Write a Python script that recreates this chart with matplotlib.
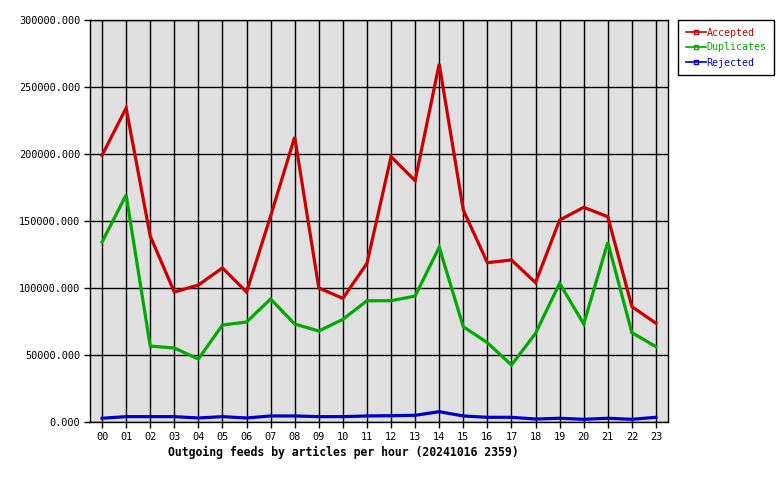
import matplotlib
matplotlib.use("Agg")
import matplotlib.pyplot as plt
from matplotlib.lines import Line2D

hours = ["00","01","02","03","04","05","06","07","08","09","10","11",
         "12","13","14","15","16","17","18","19","20","21","22","23"]
accepted = [199000, 234300, 138800, 97000, 102200, 115000, 97000, 153700,
            212700, 100000, 92300, 118400, 198000, 180100, 267200, 158200,
            118900, 120900, 104000, 150700, 160200, 153200, 86100, 73700]
duplicates = [134300, 169400, 56700, 55200, 47000, 72400, 74600, 91800,
              73100, 67900, 76600, 90500, 90500, 94000, 130400, 71100,
              59200, 42500, 66200, 103500, 73100, 134100, 66700, 56200]
rejected = [2800, 4000, 4000, 4000, 3000, 4000, 3000, 4500,
            4500, 4000, 4000, 4500, 4700, 5000, 7700, 4500,
            3500, 3500, 2200, 2800, 2000, 2800, 2000, 3500]
yticks = [0, 50000, 100000, 150000, 200000, 250000, 300000]
title = "Outgoing feeds by articles per hour (20241016 2359)"

series = [("Accepted", accepted, "#cc0000"),
          ("Duplicates", duplicates, "#00aa00"),
          ("Rejected", rejected, "#0000cc")]

fig = plt.figure(figsize=(7.8, 4.8), dpi=100)
ax = fig.add_axes([90/780, 1-422/480, (668-90)/780, (422-20)/480])
ax.set_facecolor("#e0e0e0")
x = list(range(len(hours)))
for name, vals, col in series:
    ax.plot(x, vals, color=col, lw=2.3, solid_joinstyle="miter", zorder=3)

ax.set_xlim(-0.5, 23.5)
ax.set_ylim(0, 300000)
ax.set_xticks(x)
ax.set_xticklabels(hours)
ax.set_yticks(yticks)
ax.set_yticklabels([f"{v}.000" for v in yticks])
ax.grid(True, color="black", lw=1.0, zorder=1)
ax.set_axisbelow(True)
for s in ax.spines.values():
    s.set_color("black")
    s.set_linewidth(1.0)
ax.tick_params(axis="both", direction="out", length=4, width=1,
               labelsize=7.4, colors="black", pad=3)
for lab in ax.get_xticklabels() + ax.get_yticklabels():
    lab.set_family("DejaVu Sans Mono")

fig.text(343/780, 1-452/480, title, ha="center", va="center",
         family="DejaVu Sans Mono", fontweight="bold", fontsize=8.3)

handles = [Line2D([0], [0], color=col, lw=1.2, marker="s", markersize=3,
                  markerfacecolor="none", markeredgecolor=col)
           for _, _, col in series]
leg = fig.legend(handles, [n for n, _, _ in series], loc="upper left",
                 bbox_to_anchor=(678/780, 1-20/480), frameon=True,
                 fancybox=False, edgecolor="black", framealpha=1,
                 prop={"family": "DejaVu Sans Mono", "size": 7.2},
                 handlelength=2.0, handletextpad=0.1, labelspacing=0.5,
                 borderpad=0.75, borderaxespad=0, numpoints=1)
leg.get_frame().set_linewidth(1.0)
for t, (_, _, col) in zip(leg.get_texts(), series):
    t.set_color(col)

fig.savefig("out.png", dpi=100)
